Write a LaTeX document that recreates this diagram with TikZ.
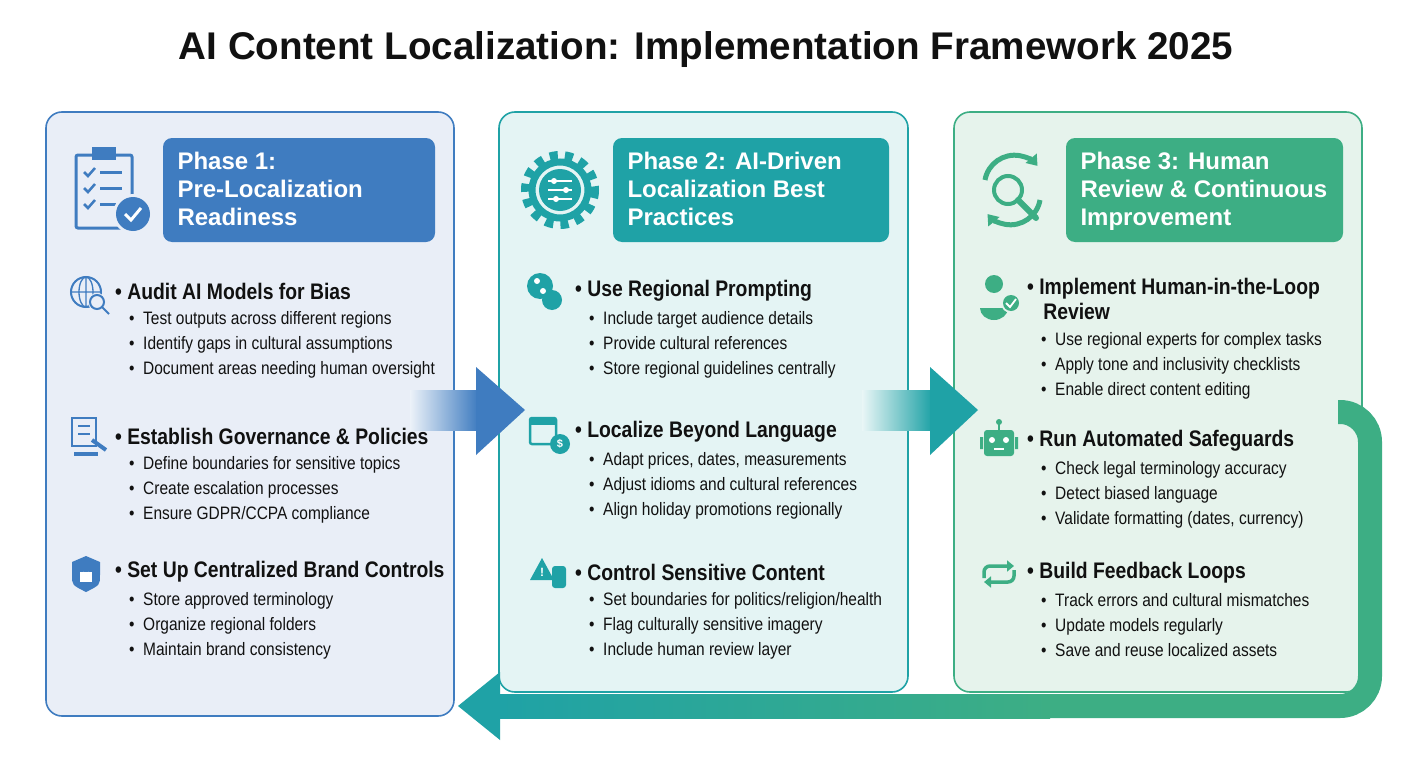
\documentclass[tikz,border=0pt]{standalone}
\usepackage{fontspec}
\setmainfont{Liberation Sans}
\newfontfamily\cond{Liberation Sans}[FakeStretch=0.86]
\usetikzlibrary{arrows.meta,shadings}
\definecolor{bA}{HTML}{3F7CC0}
\definecolor{bF}{HTML}{E9EEF7}
\definecolor{tA}{HTML}{1FA2A6}
\definecolor{tF}{HTML}{E4F4F4}
\definecolor{gA}{HTML}{3DAE84}
\definecolor{gF}{HTML}{E6F3EC}
\definecolor{ink}{HTML}{111111}
\tikzset{
 panel/.style={draw=#1,line width=1.6pt,rounded corners=16pt},
 hdr/.style={fill=#1,rounded corners=9pt,draw=none},
 htxt/.style={text=white,font=\bfseries\fontsize{24}{28}\selectfont,align=left,anchor=north west},
 sect/.style={anchor=west,font=\cond\bfseries\fontsize{22.5}{25}\selectfont,text=ink,inner sep=0},
 item/.style={anchor=north west,font=\cond\fontsize{18}{25.2}\selectfont,text=ink,align=left,inner sep=0},
}
\newcommand{\psec}[5]{% x y name title items
 \node[sect] (#3) at (#1,#2) {\textbullet\ #4};
 \node[item] (#3i) at ([xshift=14pt,yshift=-20pt]#3.west) {#5};}
\begin{document}
\begin{tikzpicture}[x=1pt,y=-1pt]
\path[fill=white] (0,0) rectangle (1408,768);
\node[font=\bfseries\fontsize{38.6}{44}\selectfont,text=ink] (title) at (706,50) {AI Content Localization: Implementation Framework 2025};
% panels
\draw[panel=bA,fill=bF] (46,112) rectangle (454,716);
\draw[panel=tA,fill=tF] (499,112) rectangle (908,692);
\draw[panel=gA,fill=gF] (954,112) rectangle (1362,692);
% headers
\fill[hdr=bA] (163,138) rectangle (435,242);
\fill[hdr=tA] (613,138) rectangle (889,242);
\fill[hdr=gA] (1066,138) rectangle (1343,242);
\node[htxt] (h1) at (174,149) {Phase 1:\\Pre-Localization\\Readiness};
\node[htxt] (h2) at (624,149) {Phase 2: AI-Driven\\Localization Best\\Practices};
\node[htxt] (h3) at (1077,149) {Phase 3: Human\\Review \& Continuous\\Improvement};
% phase icons
\draw[bA,line width=3pt,rounded corners=2pt] (76,155) rectangle (132,228);
\fill[bA] (92,147) rectangle (116,160);
\foreach \yy in {172,188,204}{\draw[bA,line width=2.5pt] (84,\yy)--(88,\yy+4)--(95,\yy-4); \draw[bA,line width=3pt] (100,\yy)--(122,\yy);}
\fill[bF] (133,214) circle (20);
\fill[bA] (133,214) circle (17); \draw[white,line width=3pt] (125,214)--(131,220)--(141,208);
\draw[tA,line width=10pt,dash pattern=on 8pt off 7pt] (560,190) circle (34);
\draw[tA,line width=7pt] (560,190) circle (28);
\fill[tA] (560,190) circle (21);
\foreach \yy in {181,190,199}{\draw[white,line width=2pt] (548,\yy)--(572,\yy);}
\fill[white] (554,181) circle (3) (566,190) circle (3) (556,199) circle (3);
\draw[gA,line width=5pt,-{Triangle[length=10pt,width=14pt]}] (985,180) arc (190:320:30);
\draw[gA,line width=5pt,-{Triangle[length=10pt,width=14pt]}] (1040,200) arc (10:140:30);
\draw[gA,line width=4pt] (1008,190) circle (14);
\draw[gA,line width=6pt,line cap=round] (1018,200)--(1036,218);
% section icons
\draw[bA,line width=2pt] (86,292) circle (15); \draw[bA,line width=1.3pt] (86,277)--(86,307) (71,292)--(101,292) (86,292) ellipse (7 and 15);
\fill[bF] (97,302) circle (9); \draw[bA,line width=2pt] (97,302) circle (7) (102,307)--(109,314);
\draw[bA,line width=2.5pt] (72,418) rectangle (96,446); \draw[bA,line width=2pt] (78,426)--(90,426) (78,434)--(90,434); \draw[bA,line width=4pt] (92,440)--(106,450);\fill[bA] (74,452) rectangle (98,456);
\fill[bA] (72,562)--(86,556)--(100,562)--(100,575) .. controls (100,585) .. (86,592) .. controls (72,585) .. (72,575)--cycle;
\fill[white] (80,572) rectangle (92,582); \draw[white,line width=1.6pt] (83,572) arc (180:0:3 and 5);
\fill[tA] (540,286) circle (13); \fill[tA] (552,300) circle (10); \fill[white] (537,281) circle (3) (543,291) circle (3);
\draw[tA,line width=2.5pt,rounded corners=2pt] (530,418) rectangle (556,444); \fill[tA] (530,418) rectangle (556,425);
\fill[tA] (560,444) circle (10); \node[text=white,font=\bfseries\fontsize{11}{11}\selectfont] (dol) at (560,444) {\$};
\fill[tA] (542,558)--(530,580)--(554,580)--cycle; \node[text=white,font=\bfseries\fontsize{12}{12}\selectfont] (ex) at (542,572) {!};
\fill[tA,rounded corners=3pt] (552,566) rectangle (566,588);
\fill[gA] (994,284) circle (9); \fill[gA] (980,308) arc (180:0:14 and 12)--cycle;
\fill[gF] (1011,303) circle (10);
\fill[gA] (1011,303) circle (8); \draw[white,line width=1.8pt] (1006,303)--(1010,307)--(1016,299);
\fill[gA,rounded corners=3pt] (984,430) rectangle (1014,456); \fill[gA] (999,422) circle (3); \draw[gA,line width=2pt] (999,422)--(999,430);
\fill[gA] (980,437) rectangle (983,449) (1015,437) rectangle (1018,449);
\fill[white] (992,440) circle (3) (1006,440) circle (3); \draw[white,line width=1.5pt] (994,449)--(1004,449);
\draw[gA,line width=3.5pt,-{Triangle[length=7pt,width=11pt]},rounded corners=6pt] (984,578)--(984,566)--(1014,566);
\draw[gA,line width=3.5pt,-{Triangle[length=7pt,width=11pt]},rounded corners=6pt] (1014,570)--(1014,582)--(984,582);
% sections
\psec{115}{291}{a1}{Audit AI Models for Bias}{\textbullet\ \ Test outputs across different regions\\\textbullet\ \ Identify gaps in cultural assumptions\\\textbullet\ \ Document areas needing human oversight}
\psec{115}{436}{a2}{Establish Governance \& Policies}{\textbullet\ \ Define boundaries for sensitive topics\\\textbullet\ \ Create escalation processes\\\textbullet\ \ Ensure GDPR/CCPA compliance}
\psec{115}{572}{a3}{Set Up Centralized Brand Controls}{\textbullet\ \ Store approved terminology\\\textbullet\ \ Organize regional folders\\\textbullet\ \ Maintain brand consistency}
\psec{575}{291}{b1}{Use Regional Prompting}{\textbullet\ \ Include target audience details\\\textbullet\ \ Provide cultural references\\\textbullet\ \ Store regional guidelines centrally}
\psec{575}{432}{b2}{Localize Beyond Language}{\textbullet\ \ Adapt prices, dates, measurements\\\textbullet\ \ Adjust idioms and cultural references\\\textbullet\ \ Align holiday promotions regionally}
\psec{575}{572}{b3}{Control Sensitive Content}{\textbullet\ \ Set boundaries for politics/religion/health\\\textbullet\ \ Flag culturally sensitive imagery\\\textbullet\ \ Include human review layer}
\node[sect,align=left,anchor=north west] (c1) at (1027,278) {\textbullet\ Implement Human-in-the-Loop\\\ \ \ Review};
\node[item] (c1i) at (1041,332) {\textbullet\ \ Use regional experts for complex tasks\\\textbullet\ \ Apply tone and inclusivity checklists\\\textbullet\ \ Enable direct content editing};
\psec{1027}{441}{c2}{Run Automated Safeguards}{\textbullet\ \ Check legal terminology accuracy\\\textbullet\ \ Detect biased language\\\textbullet\ \ Validate formatting (dates, currency)}
\psec{1027}{573}{c3}{Build Feedback Loops}{\textbullet\ \ Track errors and cultural mismatches\\\textbullet\ \ Update models regularly\\\textbullet\ \ Save and reuse localized assets}
% transition arrows
\shade[left color=bA!10,right color=bA] (410,390) rectangle (478,430);
\fill[bA] (476,367)--(525,410)--(476,455)--cycle;
\shade[left color=tA!10,right color=tA] (862,390) rectangle (932,430);
\fill[tA] (930,367)--(978,410)--(930,455)--cycle;
% feedback loop
\coordinate (ls) at (1338,412);
\coordinate (lc) at (1370,412);
\coordinate (ld) at (1370,706);
\coordinate (le) at (498,706);
\draw[gA,line width=24pt,rounded corners=30pt] (ls)--(lc)--(ld)--(le);
\shade[left color=tA,right color=gA] (498,694) rectangle (1050,718);
\fill[tA] (500,672)--(458,706)--(500,740)--cycle;
\end{tikzpicture}
\end{document}
